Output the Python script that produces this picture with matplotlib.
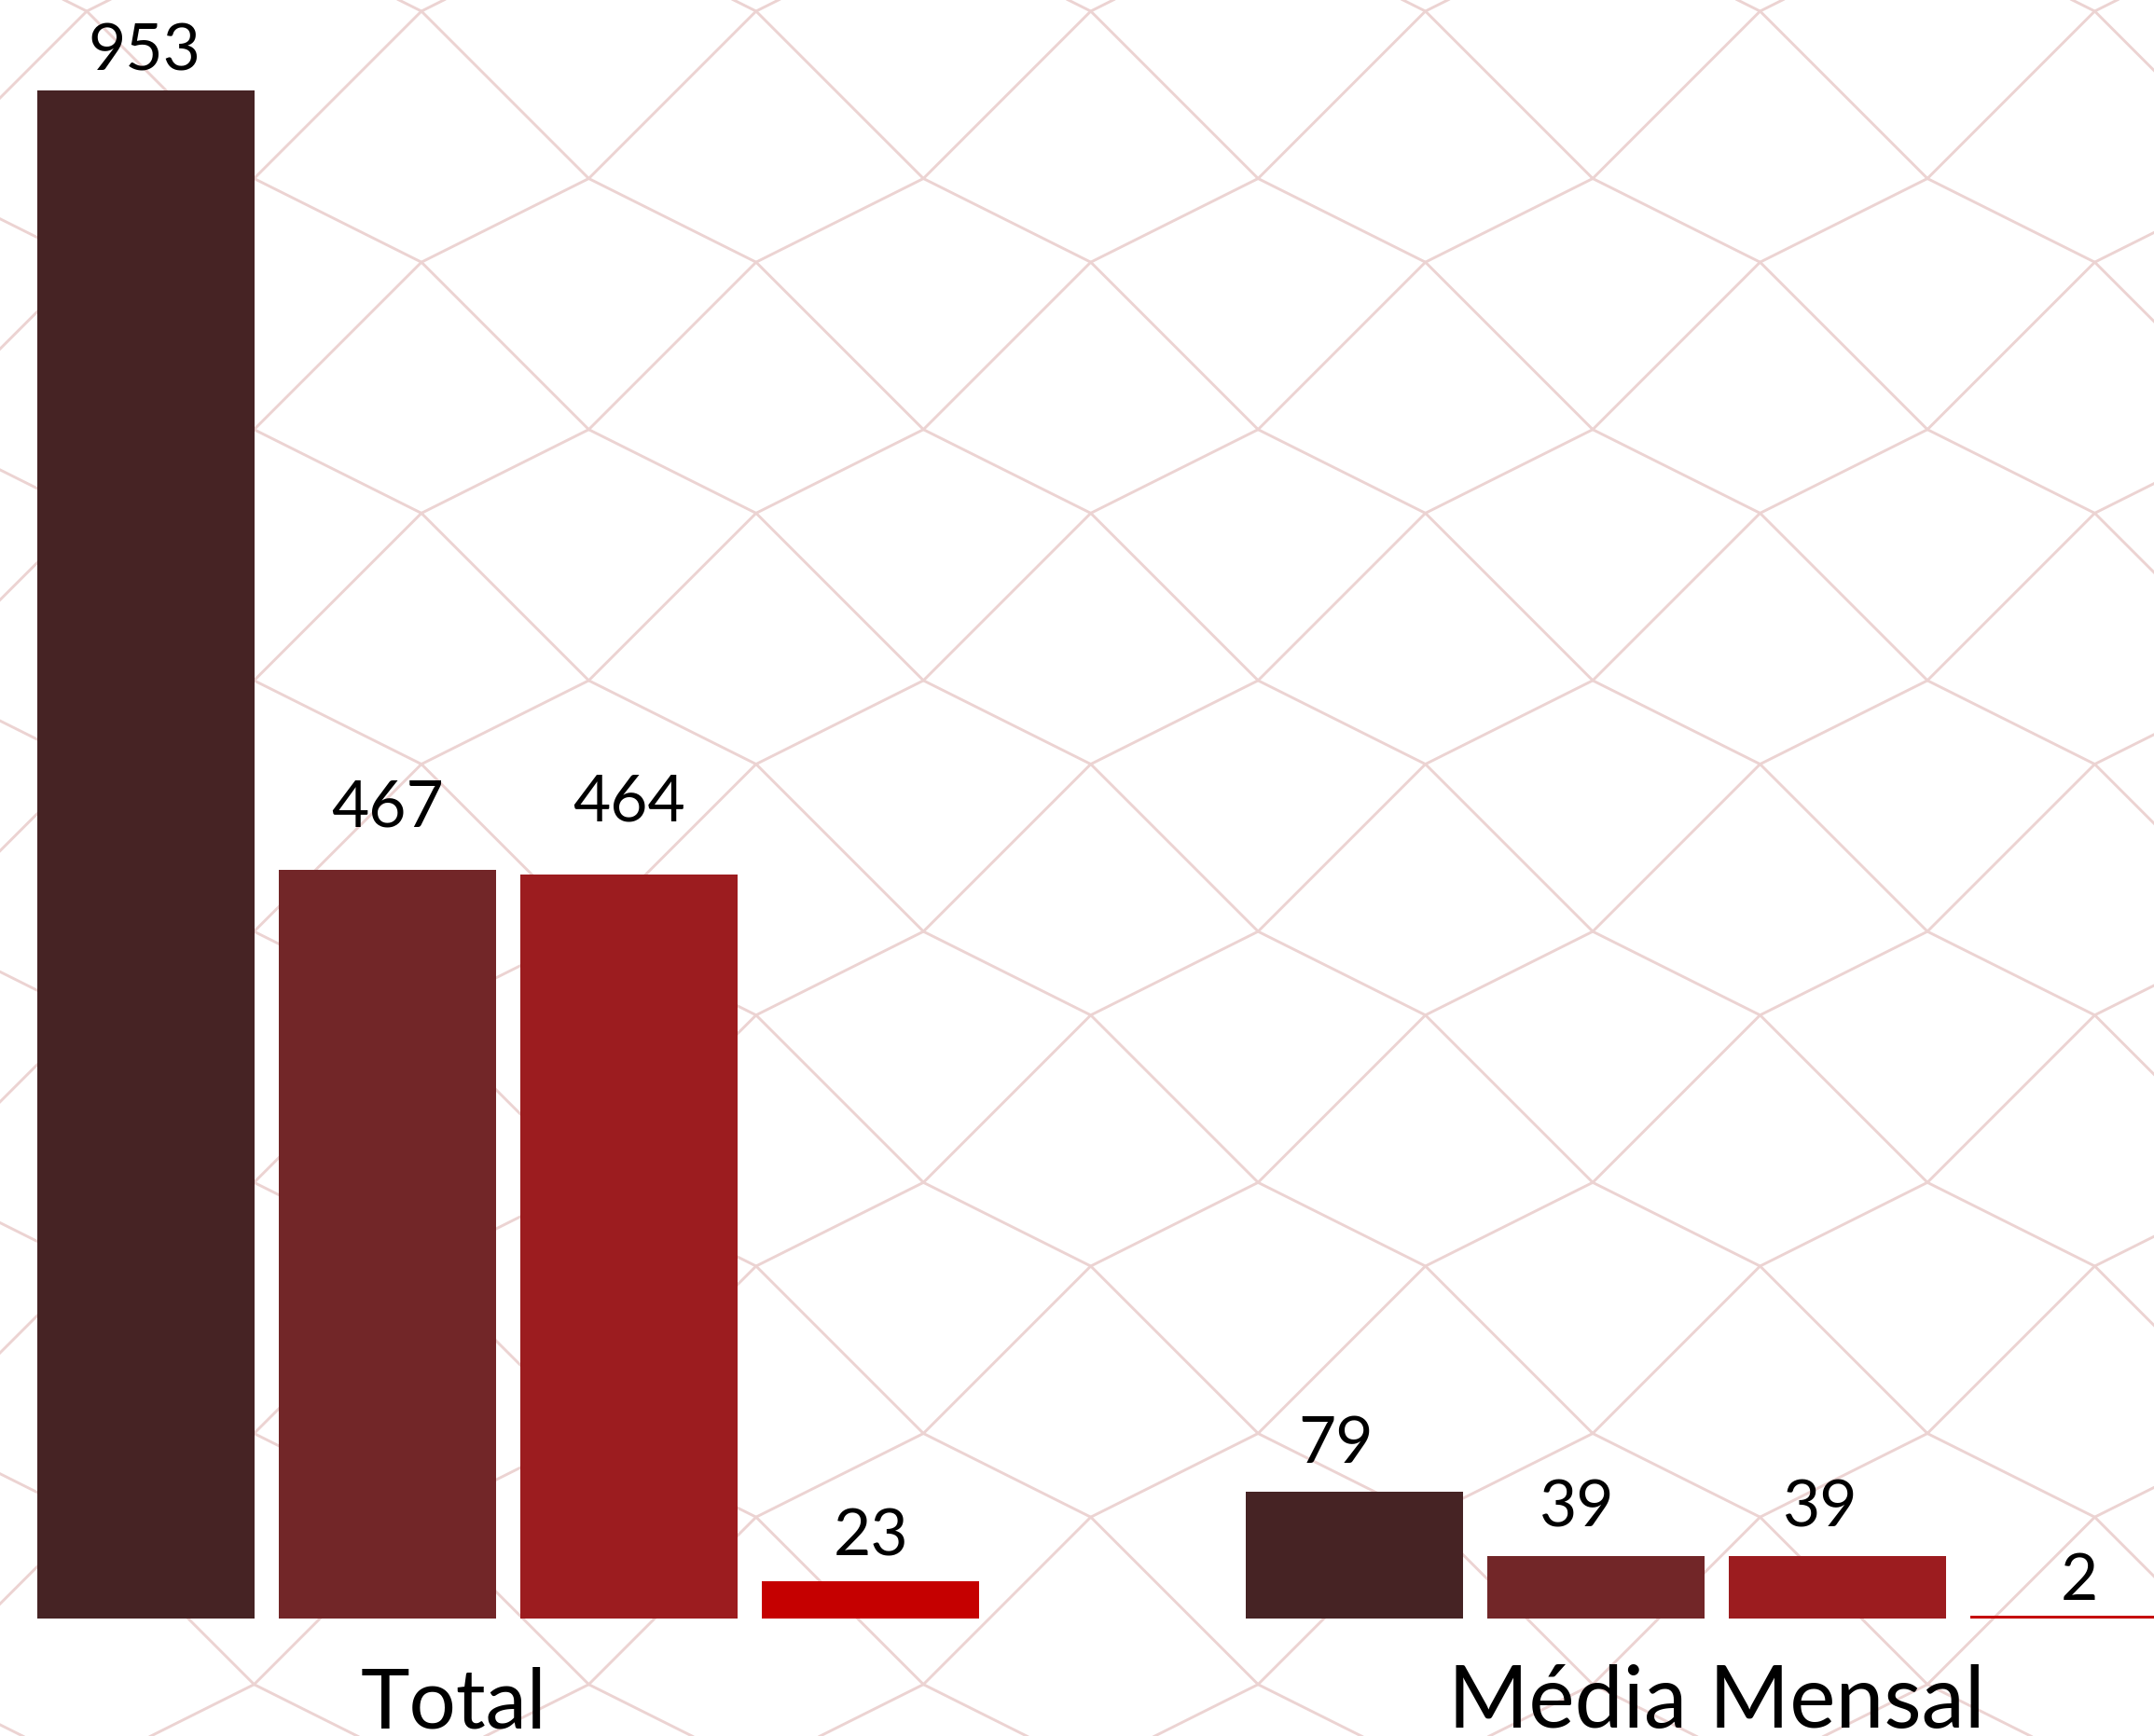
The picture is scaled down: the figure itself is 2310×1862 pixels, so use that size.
import matplotlib
matplotlib.use("Agg")
import matplotlib.pyplot as plt
from matplotlib.collections import LineCollection
from matplotlib.transforms import blended_transform_factory

# ---- data ----
categories = ["Total", "Média Mensal"]
series_total = [953, 467, 464, 23]
series_mensal = [79, 39, 39, 2]
values = [series_total, series_mensal]

# ---- style ----
bar_colors = ["#462324", "#722628", "#9C1C1F", "#C50000"]
label_gap_px = [[21, 46, 57, 28], [31, 31, 31, 17]]
label_dx_px = [[-1, 0, 0, 0], [-20, -20, -18, 0]]
cat_shift = [-0.0455, 0.0]
grid_color = "#ECD3D2"

W, H, DPI = 2310, 1862, 100
plt.rcParams['font.family'] = ['Lato', 'DejaVu Sans']
fig = plt.figure(figsize=(W / DPI, H / DPI), dpi=DPI)
fig.patch.set_facecolor("white")

# background lattice (decoration, pixel coordinates)
bg = fig.add_axes([0, 0, 1, 1], zorder=0)
bg.set_xlim(0, W)
bg.set_ylim(H, 0)
bg.axis("off")
px, py = 358.9, 269.2
hx, hy = px / 2, 89.7
tx0, ty0 = 272.5, 191.5
segs = []
for k in range(-2, 9):
    for n in range(-2, 9):
        tx = tx0 + n * px
        ty = ty0 + k * py
        bx, by = tx + hx, ty + hy
        segs.append([(tx, ty), (bx, by)])
        segs.append([(tx, ty), (tx - hx, ty + hy)])
        segs.append([(bx, by), (bx - hx, by + hx)])
        segs.append([(bx, by), (bx + hx, by + hx)])
bg.add_collection(LineCollection(segs, colors=grid_color, linewidths=2.1))

# bar chart
ax = fig.add_axes([0, 0, 1, 1], zorder=1)
ax.patch.set_alpha(0)
base_px = 1736
scale = 1.72
ax.set_ylim(-(H - base_px) / scale, base_px / scale)
ax.set_xlim(-545 / 1296, (W - 545) / 1296)
ax.axis("off")

n_series = len(series_total)
step, width = 0.2, 0.18
for gi, vals in enumerate(values):
    for si, v in enumerate(vals):
        x = gi + (si - (n_series - 1) / 2) * step
        ax.bar(x, v, width=width, color=bar_colors[si], zorder=2)
        ax.annotate(str(v), (x, v),
                    xytext=(label_dx_px[gi][si], label_gap_px[gi][si]),
                    textcoords="offset pixels", ha="center", va="baseline",
                    fontsize=50, color="black", zorder=3)

trans = blended_transform_factory(ax.transData, fig.transFigure)
cat_sizes = [64, 67]
for gi, cat in enumerate(categories):
    ax.text(gi + cat_shift[gi], (H - 1853) / H, cat, transform=trans,
            ha="center", va="baseline", fontsize=cat_sizes[gi], color="black")

fig.savefig("out.png", dpi=DPI)
